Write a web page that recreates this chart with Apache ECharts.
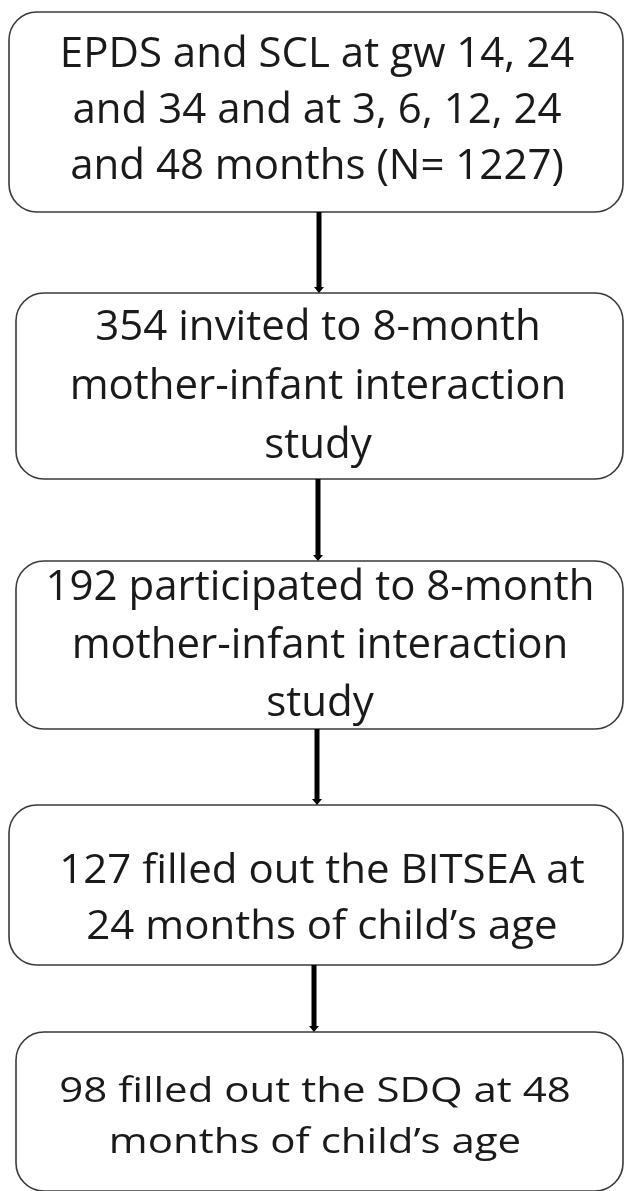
<!DOCTYPE html>
<html>
<head>
<meta charset="utf-8">
<script src="https://cdn.jsdelivr.net/npm/echarts@6/dist/echarts.min.js"></script>
<style>
  html, body { margin: 0; padding: 0; background: #fff; }
  #main { width: 624px; height: 1191px; }
</style>
</head>
<body>
<div id="main"></div>
<script>
// 流程图每一步的文字 (按原图换行)
var stepTexts = [
    'EPDS and SCL at gw 14, 24\nand 34 and at 3, 6, 12, 24\nand 48 months (N= 1227)',
    '354 invited to 8-month\nmother-infant interaction\nstudy',
    '192 participated to 8-month\nmother-infant interaction\nstudy',
    '127 filled out the BITSEA at\n24 months of child\u2019s age',
    '98 filled out the SDQ at 48\nmonths of child\u2019s age'
];
// 各步骤的人数
var counts = [1227, 354, 192, 127, 98];

// 版面: 方框上下左右边界, 文字中心, 行高, 纵向压缩, 箭头 x
var boxTop = [12, 293, 561, 805, 1032];
var boxBottom = [212, 479, 729, 965, 1191];
var boxLeft = [9, 16, 16, 9, 16];
var boxRight = [623, 623, 623, 623, 623];
var textCenterY = [111, 387, 646, 900, 1117];
var textCenterX = [317, 318, 320, 322, 315];
var lineGap = [56, 59, 58, 56, 51];
var textScaleY = [1, 1, 1, 0.95, 0.84];
var arrowX = [319, 318, 317, 314];

var chart = echarts.init(document.getElementById('main'));

var boxData = stepTexts.map(function (t, i) {
    return [i, counts[i]];
});
var arrowData = arrowX.map(function (x, i) {
    return [i];
});

var option = {
    animation: false,
    grid: { left: 0, right: 0, top: 0, bottom: 0 },
    xAxis: { type: 'value', min: 0, max: 624, show: false },
    yAxis: { type: 'value', min: 0, max: 1191, inverse: true, show: false },
    series: [{
        // 方框 + 文字
        type: 'custom',
        data: boxData,
        renderItem: function (params, api) {
            var i = api.value(0);
            var p1 = api.coord([boxLeft[i], boxTop[i]]);
            var p2 = api.coord([boxRight[i], boxBottom[i]]);
            var c = api.coord([textCenterX[i], textCenterY[i]]);
            return {
                type: 'group',
                children: [{
                    type: 'rect',
                    shape: { x: p1[0], y: p1[1], width: p2[0] - p1[0], height: p2[1] - p1[1], r: 28 },
                    style: { fill: '#fff', stroke: '#3a3a3a', lineWidth: 1.6 }
                }, {
                    type: 'text',
                    x: c[0],
                    y: c[1],
                    scaleY: textScaleY[i],
                    style: {
                        text: stepTexts[i],
                        fontFamily: 'Open Sans',
                        fontSize: 42,
                        lineHeight: lineGap[i] / textScaleY[i],
                        fill: '#1a1a1a',
                        align: 'center',
                        verticalAlign: 'middle'
                    }
                }]
            };
        }
    }, {
        // 连接箭头
        type: 'custom',
        data: arrowData,
        renderItem: function (params, api) {
            var i = api.value(0);
            var a = api.coord([arrowX[i], boxBottom[i]]);
            var b = api.coord([arrowX[i], boxTop[i + 1]]);
            return {
                type: 'group',
                children: [{
                    type: 'line',
                    shape: { x1: a[0], y1: a[1], x2: b[0], y2: b[1] - 4 },
                    style: { stroke: '#000', lineWidth: 5 }
                }, {
                    type: 'polygon',
                    shape: { points: [[b[0] - 5, b[1] - 6], [b[0] + 5, b[1] - 6], [b[0], b[1]]] },
                    style: { fill: '#000' }
                }]
            };
        }
    }]
};

chart.setOption(option);
</script>
</body>
</html>
